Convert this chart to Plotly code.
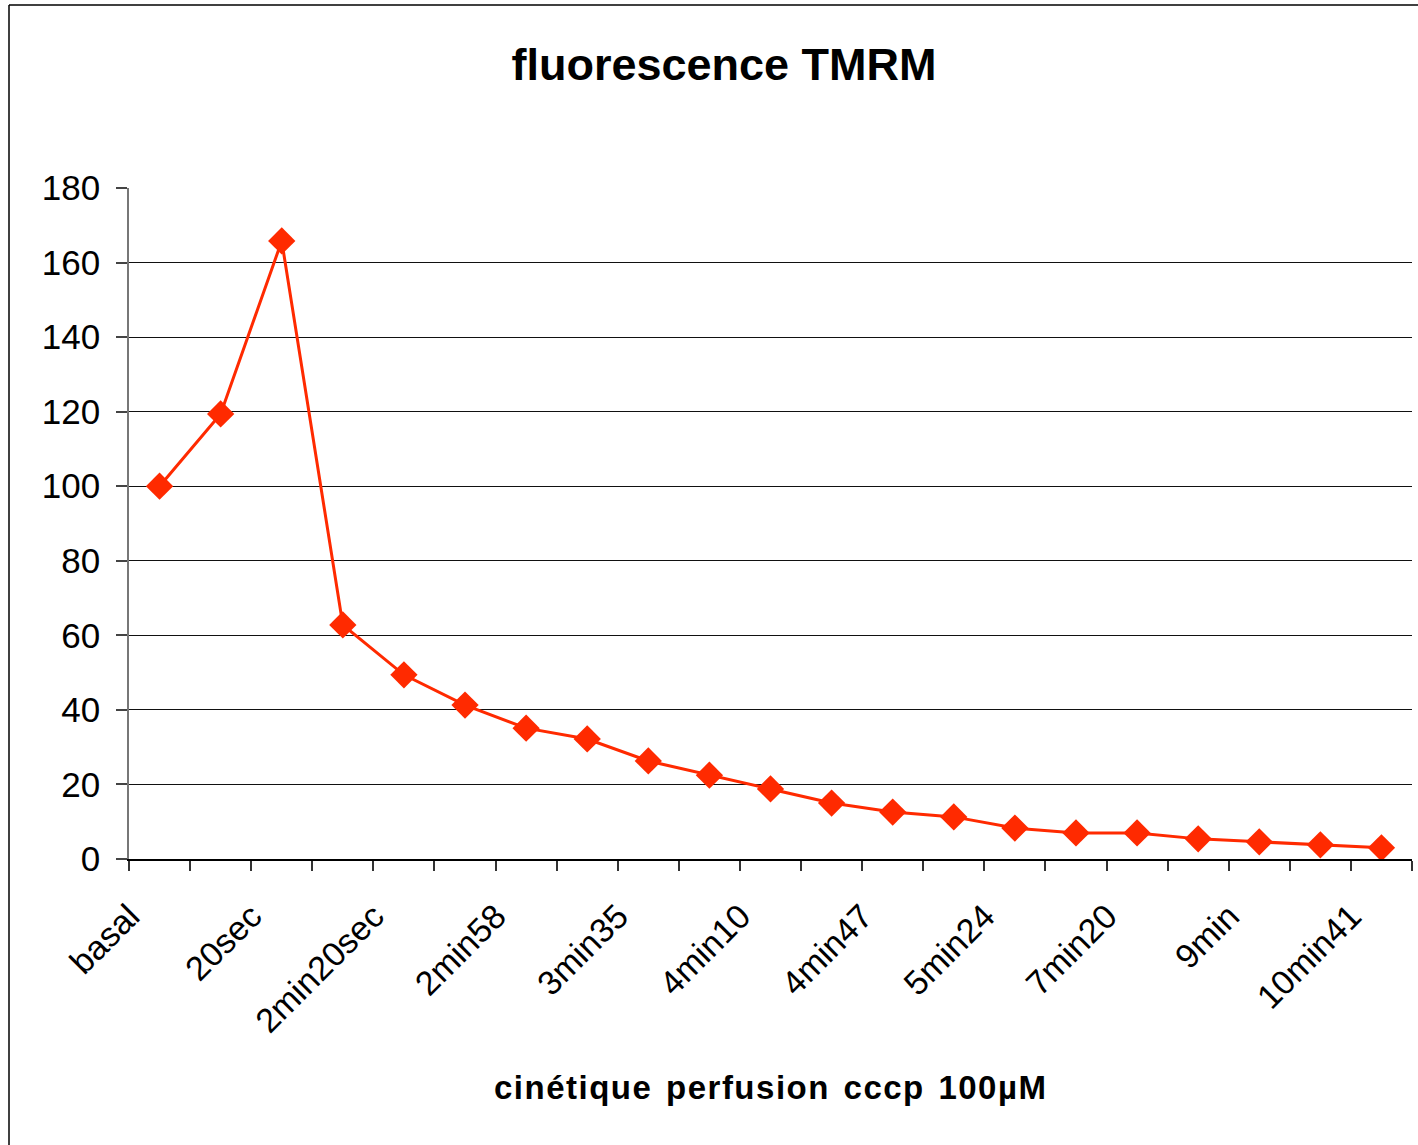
import plotly.graph_objects as go

# Data (21 measurement points; only every other category label is shown)
point_index = list(range(21))
fluorescence = [100, 119.4, 165.8, 62.8, 49.4, 41.3, 35.1, 32.2, 26.3, 22.5,
                18.8, 15.0, 12.6, 11.3, 8.3, 7.0, 7.0, 5.4, 4.6, 3.8, 3.0]
tick_labels = ["basal", "20sec", "2min20sec", "2min58", "3min35", "4min10",
               "4min47", "5min24", "7min20", "9min", "10min41"]
tick_positions = point_index[::2]
y_ticks = [0, 20, 40, 60, 80, 100, 120, 140, 160, 180]

FONT = "Arial, 'Liberation Sans', sans-serif"
RED = "#ff2a00"

fig = go.Figure()
fig.add_trace(go.Scatter(
    x=point_index, y=fluorescence, mode="lines+markers",
    line=dict(color=RED, width=3),
    marker=dict(symbol="diamond", size=21, color=RED),
    showlegend=False, hoverinfo="x+y",
))

W, H = 1418, 1145
ml, mr, mt, mb = 129, 6, 188, 286

fig.update_layout(
    width=W, height=H,
    margin=dict(l=ml, r=mr, t=mt, b=mb, pad=0),
    paper_bgcolor="white", plot_bgcolor="white",
    font=dict(family=FONT, color="black", size=35),
    title=dict(text="<b>fluorescence TMRM</b>", x=724 / W, xref="container",
               xanchor="center", y=1 - 64 / H, yref="container", yanchor="middle",
               font=dict(family=FONT, size=45, color="black")),
    xaxis=dict(
        range=[-0.5, 20.5], tickmode="array", tickvals=tick_positions,
        ticktext=tick_labels, tickangle=-45, ticks="", showgrid=False,
        zeroline=False, showline=True, linecolor="black", linewidth=1.5,
        tickfont=dict(family=FONT, size=34, color="black"),
        minor=dict(tickmode="array", tickvals=[i - 0.5 for i in range(22)],
                   ticks="outside", ticklen=10, tickwidth=1.5,
                   tickcolor="#333333", showgrid=False),
        ticklabelstandoff=22, ticklabelshift=-30,
    ),
    yaxis=dict(
        range=[0, 180], tickmode="array", tickvals=y_ticks,
        ticks="outside", ticklen=11, tickwidth=1.5, tickcolor="#444444",
        showgrid=True, gridcolor="#111111", gridwidth=1,
        zeroline=False, showline=True, linecolor="#777777", linewidth=1.5,
        tickfont=dict(family=FONT, size=35, color="black"),
        ticklabelstandoff=9,
    ),
    annotations=[dict(
        text="<b>cinétique perfusion cccp 100µM</b>", xref="paper", yref="paper",
        x=0.5, y=-(1087 - (H - mb)) / (H - mt - mb), xanchor="center",
        yanchor="middle", showarrow=False,
        font=dict(family=FONT, size=33, color="black"),
    )],
)

# outer chart frame (top and left edges visible)
pw = W - ml - mr
ph = H - mt - mb
fx = (9 - ml) / pw
fy = ((H - mb) - 5) / ph
fig.add_shape(type="line", xref="paper", yref="paper", x0=fx, x1=1.2, y0=fy, y1=fy,
              line=dict(color="black", width=1.5))
fig.add_shape(type="line", xref="paper", yref="paper", x0=fx, x1=fx, y0=fy, y1=-0.6,
              line=dict(color="black", width=1.5))

post = (
    "document.body.style.margin='0';document.body.style.overflow='hidden';"
    "document.querySelectorAll('.annotation-text').forEach(function(e){"
    "e.style.letterSpacing='1.5px';e.style.wordSpacing='3px';});"
)
fig.write_html("out.html", post_script=post, config={"displayModeBar": False})
